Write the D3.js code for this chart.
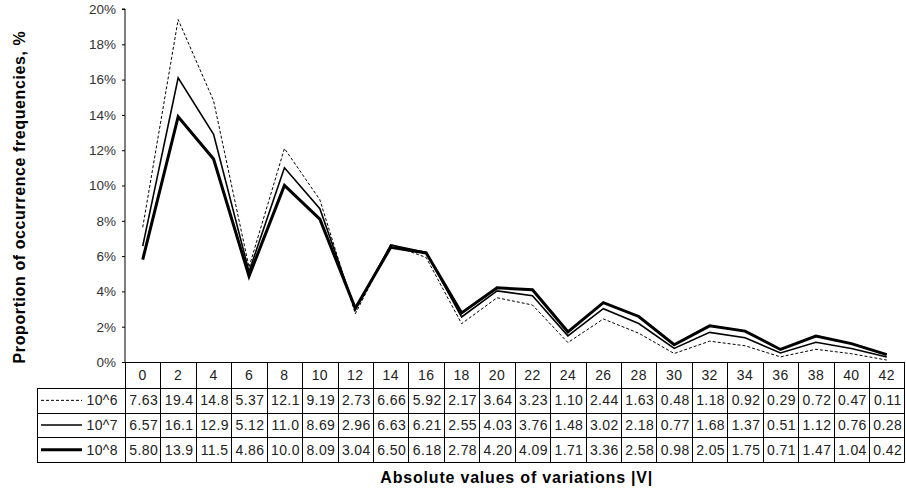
<!DOCTYPE html>
<html>
<head>
<meta charset="utf-8">
<script src="https://cdn.jsdelivr.net/npm/d3@7"></script>
<style>
  html, body { margin: 0; padding: 0; background: #fff; }
  svg { display: block; font-family: Arial, "Liberation Sans", sans-serif; }
</style>
</head>
<body>
<svg id="chart" width="906" height="493"></svg>
<script>
// Absolute variation values |V| (categories)
const categories = [0, 2, 4, 6, 8, 10, 12, 14, 16, 18, 20, 22, 24, 26, 28, 30, 32, 34, 36, 38, 40, 42];

// Occurrence frequencies, % for each sample size
const seriesNames = ["10^6", "10^7", "10^8"];
const values1e6 = [7.63, 19.4, 14.8, 5.37, 12.1, 9.19, 2.73, 6.66, 5.92, 2.17, 3.64, 3.23, 1.10, 2.44, 1.63, 0.48, 1.18, 0.92, 0.29, 0.72, 0.47, 0.11];
const values1e7 = [6.57, 16.1, 12.9, 5.12, 11.0, 8.69, 2.96, 6.63, 6.21, 2.55, 4.03, 3.76, 1.48, 3.02, 2.18, 0.77, 1.68, 1.37, 0.51, 1.12, 0.76, 0.28];
const values1e8 = [5.80, 13.9, 11.5, 4.86, 10.0, 8.09, 3.04, 6.50, 6.18, 2.78, 4.20, 4.09, 1.71, 3.36, 2.58, 0.98, 2.05, 1.75, 0.71, 1.47, 1.04, 0.42];

// Y axis ticks (percent)
const yTicks = [0, 2, 4, 6, 8, 10, 12, 14, 16, 18, 20];

const series = [
  { name: seriesNames[0], values: values1e6, width: 1, dash: "3,2" },
  { name: seriesNames[1], values: values1e7, width: 1.6, dash: null },
  { name: seriesNames[2], values: values1e8, width: 3, dash: null }
];

const svg = d3.select("#chart");
const plotLeft = 125, plotRight = 904.5, plotTop = 9, plotBottom = 362;
const tableLeft = 37;
const headerBottom = 388;
const rowH = 24.7;

const x = d3.scaleBand().domain(categories).range([plotLeft, plotRight]).padding(0);
const y = d3.scaleLinear().domain([0, 20]).range([plotBottom, plotTop]);

// Y axis
const yAxis = d3.axisLeft(y)
  .tickValues(yTicks)
  .tickSize(3)
  .tickPadding(6)
  .tickFormat(d => d + "%");
const yg = svg.append("g")
  .attr("transform", `translate(${plotLeft},0)`)
  .call(yAxis);
yg.select(".domain").attr("stroke", "#000").attr("d", `M-3,${plotTop}H0V${plotBottom}`);
yg.selectAll(".tick line").attr("stroke", "#000");
yg.selectAll(".tick text").attr("fill", "#333").style("font-size", "13.5px");

// Y axis title
svg.append("text")
  .attr("transform", `translate(25,${(28 + 366) / 2}) rotate(-90)`)
  .attr("text-anchor", "middle")
  .style("font-size", "16px")
  .style("font-weight", "bold")
  .style("letter-spacing", "0.6px")
  .attr("fill", "#000")
  .text("Proportion of occurrence frequencies, %");

// Series lines
const line = d3.line()
  .x((d, i) => x(categories[i]) + x.bandwidth() / 2)
  .y(d => y(d));

series.forEach(s => {
  svg.append("path")
    .datum(s.values)
    .attr("d", line)
    .attr("fill", "none")
    .attr("stroke", "#000")
    .attr("stroke-width", s.width)
    .attr("stroke-linejoin", "miter")
    .attr("stroke-dasharray", s.dash);
});

// Data table grid
const table = svg.append("g").attr("stroke", "#000").attr("stroke-width", 1);
const lastRowBottom = headerBottom + rowH * series.length;

table.append("line").attr("x1", plotLeft).attr("x2", plotRight).attr("y1", plotBottom + 0.5).attr("y2", plotBottom + 0.5);
d3.range(series.length + 1).forEach(i => {
  const yy = Math.round(headerBottom + rowH * i) + 0.5;
  table.append("line").attr("x1", tableLeft).attr("x2", plotRight).attr("y1", yy).attr("y2", yy);
});
table.append("line").attr("x1", tableLeft + 0.5).attr("x2", tableLeft + 0.5).attr("y1", headerBottom).attr("y2", Math.round(lastRowBottom) + 0.5);
categories.forEach(c => {
  const xx = Math.round(x(c)) + 0.5;
  table.append("line").attr("x1", xx).attr("x2", xx).attr("y1", plotBottom).attr("y2", Math.round(lastRowBottom) + 0.5);
});
table.append("line").attr("x1", Math.round(plotRight) - 0.5).attr("x2", Math.round(plotRight) - 0.5).attr("y1", plotBottom).attr("y2", Math.round(lastRowBottom) + 0.5);

const textG = svg.append("g").style("font-size", "14px").style("letter-spacing", "0.4px").attr("fill", "#222");

// Header labels
textG.selectAll("text.head")
  .data(categories)
  .join("text")
  .attr("class", "head")
  .attr("x", d => x(d) + x.bandwidth() / 2)
  .attr("y", (plotBottom + headerBottom) / 2 + 5)
  .attr("text-anchor", "middle")
  .text(d => d);

// Value rows with legend keys
series.forEach((s, r) => {
  const cy = headerBottom + rowH * r + rowH / 2 + 5;
  textG.selectAll(`text.row${r}`)
    .data(s.values)
    .join("text")
    .attr("class", `row${r}`)
    .attr("x", (d, i) => x(categories[i]) + x.bandwidth() / 2 + 1)
    .attr("y", cy)
    .attr("text-anchor", "middle")
    .text(d => d < 10 ? d.toFixed(2) : d.toFixed(1));

  const ky = headerBottom + rowH * r + rowH / 2;
  svg.append("line")
    .attr("x1", 41).attr("x2", 82)
    .attr("y1", ky).attr("y2", ky)
    .attr("stroke", "#000")
    .attr("stroke-width", s.width)
    .attr("stroke-dasharray", s.dash);
  textG.append("text")
    .attr("x", 118)
    .attr("y", cy)
    .attr("text-anchor", "end")
    .text(s.name);
});

// X axis title
svg.append("text")
  .attr("x", (plotLeft + plotRight) / 2 + 2)
  .attr("y", 483)
  .attr("text-anchor", "middle")
  .style("font-size", "16px")
  .style("font-weight", "bold")
  .style("letter-spacing", "0.8px")
  .attr("fill", "#000")
  .text("Absolute values of variations |V|");
</script>
</body>
</html>
